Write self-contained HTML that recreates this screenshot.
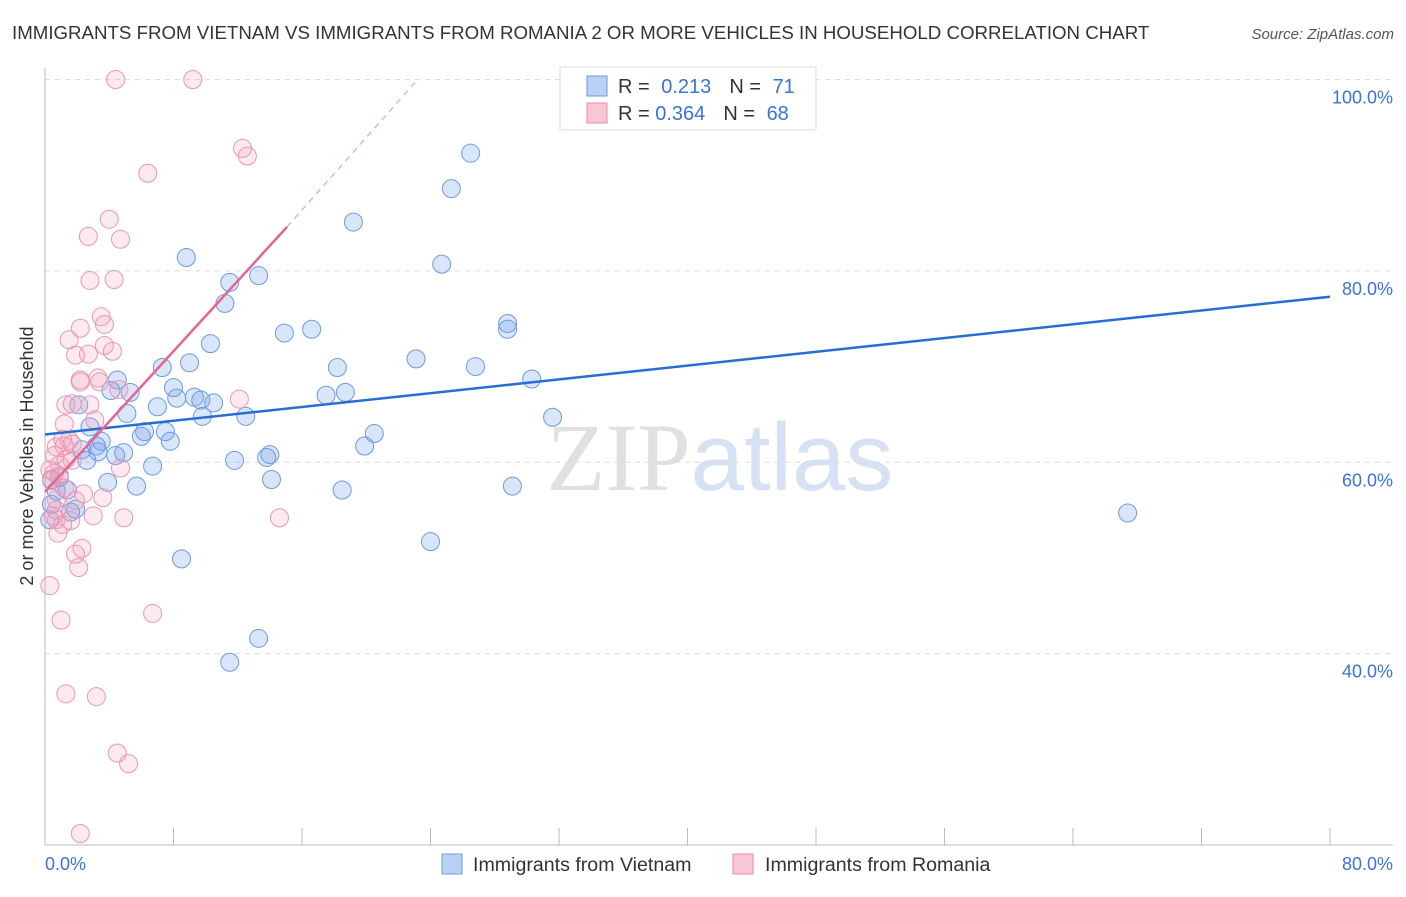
<!DOCTYPE html>
<html><head><meta charset="utf-8"><style>
body{margin:0;background:#fff;font-family:"Liberation Sans",sans-serif;}
svg text{font-family:"Liberation Sans",sans-serif;}
</style></head><body>
<svg id="chart" width="1406" height="892" xmlns="http://www.w3.org/2000/svg">
<text x="12" y="39" font-size="18.7" fill="#333">IMMIGRANTS FROM VIETNAM VS IMMIGRANTS FROM ROMANIA 2 OR MORE VEHICLES IN HOUSEHOLD CORRELATION CHART</text>
<text x="1394" y="39" font-size="15" fill="#555" font-style="italic" text-anchor="end">Source: ZipAtlas.com</text>
<text x="720" y="490" font-size="96" text-anchor="middle"><tspan fill="#e0e0e0" font-family="Liberation Serif">ZIP</tspan><tspan fill="#d6e2f3">atlas</tspan></text>
<g id="grid"></g>
<g id="axes"></g>
<g id="pts"></g>
<g id="trend"></g>
<text transform="translate(33,456) rotate(-90)" font-size="18" fill="#333" text-anchor="middle">2 or more Vehicles in Household</text>
<g>
<rect x="560" y="67" width="256" height="63" fill="#fff" stroke="#ddd"/>
<rect x="587" y="76" width="20" height="20" fill="#b9d1f5" stroke="#6c9be0"/>
<text x="618" y="93" font-size="20" fill="#333">R = <tspan fill="#3a74d4" dx="6">0.213</tspan><tspan dx="18" fill="#333">N = </tspan><tspan fill="#3a74d4" dx="6">71</tspan></text>
<rect x="587" y="103" width="20" height="20" fill="#f9c6d6" stroke="#e98aa8"/>
<text x="618" y="120" font-size="20" fill="#333">R = <tspan fill="#3a74d4">0.364</tspan><tspan dx="18" fill="#333">N = </tspan><tspan fill="#3a74d4" dx="6">68</tspan></text>
</g>
<g>
<rect x="442" y="854" width="20" height="20" fill="#b9d1f5" stroke="#6c9be0"/>
<text x="473" y="871" font-size="19.6" fill="#333">Immigrants from Vietnam</text>
<rect x="733" y="854" width="20" height="20" fill="#f9c6d6" stroke="#e98aa8"/>
<text x="765" y="871" font-size="19.6" fill="#333">Immigrants from Romania</text>
</g>
</svg>
<script>
const xTicks=[0,8,16,24,32,40,48,56,64,72,80];
const yTicks=[40,60,80,100];
const yTickLabels=["40.0%","60.0%","80.0%","100.0%"];
const xEndLabels=["0.0%","80.0%"];
const vietX=[8.8,11.5,13.3,11.2,19.2,24.7,25.3,26.5,14.9,16.6,10.3,7.3,9.0,18.2,23.1,26.8,28.8,28.8,30.3,4.5,4.1,5.3,8.0,8.2,9.3,9.7,10.5,17.5,18.7,2.1,5.1,7.0,9.8,12.5,31.6,6.2,6.0,7.5,7.8,2.8,3.5,3.2,2.3,3.3,4.4,4.9,2.6,6.7,11.8,13.8,14.0,20.5,19.9,0.9,0.7,1.4,3.9,5.7,14.1,18.5,29.1,1.9,1.6,67.4,24.0,8.5,13.3,11.5,0.3,0.4,0.4];
const vietY=[81.4,78.8,79.5,76.6,85.1,80.7,88.6,92.3,73.5,73.9,72.4,69.9,70.4,69.9,70.8,70.0,74.5,73.9,68.7,68.6,67.5,67.3,67.8,66.7,66.8,66.5,66.2,67.0,67.3,66.0,65.1,65.8,64.8,64.8,64.7,63.2,62.7,63.2,62.2,63.7,62.2,61.7,61.3,61.1,60.7,61.0,60.2,59.6,60.2,60.5,60.8,63.0,61.7,58.4,57.0,57.1,57.9,57.5,58.2,57.1,57.5,55.1,54.8,54.7,51.7,49.9,41.6,39.1,54.0,55.6,58.2];
const romX=[4.4,9.2,12.3,12.6,6.4,4.0,2.7,4.7,2.8,4.3,2.2,3.5,3.7,1.5,1.9,3.7,4.2,2.7,2.2,3.3,4.6,12.1,1.3,1.7,1.2,1.1,1.5,1.7,1.2,0.7,0.6,0.4,0.9,1.7,4.7,2.4,0.7,1.9,3.6,3.0,4.9,14.6,0.5,0.7,1.6,0.8,2.3,1.9,2.1,0.3,6.7,1.0,1.3,3.2,4.5,5.2,2.2,0.6,0.9,0.3,1.2,2.8,0.7,1.3,3.4,2.2,1.1,3.1];
const romY=[100,100,92.8,92.0,90.2,85.4,83.6,83.3,79.0,79.1,74.0,75.2,74.4,72.8,71.2,72.2,71.6,71.3,68.4,68.8,67.6,66.6,66.0,66.1,64.0,62.4,62.3,61.9,61.7,61.6,58.9,58.1,58.6,60.2,59.4,56.7,56.1,56.0,56.3,54.4,54.2,54.2,54.4,54.0,53.9,52.6,51.0,50.4,49.0,47.1,44.2,43.5,35.8,35.5,29.6,28.5,21.2,60.7,59.7,59.2,57.3,66.0,55.0,60.3,68.4,68.6,53.5,64.4];
const vietTrend=[62.9,77.3];
const romTrend=[56.9,84.6,100];
const romTrendX=[0,15.07,23.2];
const NS="http://www.w3.org/2000/svg";
const X=v=>45+v*(1285/80);
const Y=v=>845-(v-20)*(765.5/80);
function mk(tag,attrs,parent){const e=document.createElementNS(NS,tag);for(const k in attrs)e.setAttribute(k,attrs[k]);parent.appendChild(e);return e;}
const grid=document.getElementById('grid'),axes=document.getElementById('axes'),pts=document.getElementById('pts'),trend=document.getElementById('trend');
yTicks.forEach((t,i)=>{
 const l=mk('line',{x1:45,x2:1393,y1:Y(t),y2:Y(t),stroke:'#ddd','stroke-dasharray':'5,5'},grid);
 
 
 const tx=mk('text',{x:1393,y:Y(t)+24,'font-size':18,fill:'#3a74d4','text-anchor':'end'},axes);
 tx.textContent=yTickLabels[i];
 
 
});
const ax=mk('line',{x1:45,x2:45,y1:68,y2:845,stroke:'#bbb'},axes);


const bx=mk('line',{x1:45,x2:1393,y1:845,y2:845,stroke:'#bbb'},axes);


xTicks.forEach(t=>{
 const l=mk('line',{x1:X(t),x2:X(t),y1:828,y2:845,stroke:'#bbb'},axes);
 
 
});
[[0,'start',45],[80,'end',1393]].forEach((d,i)=>{
 const tx=mk('text',{x:d[2],y:870,'font-size':18,fill:'#3a74d4','text-anchor':d[1]},axes);
 tx.textContent=xEndLabels[i];
 
 
});
vietX.forEach((x,i)=>{
 const c=mk('circle',{cx:X(x),cy:Y(vietY[i]),r:9,fill:'rgba(120,162,232,0.28)',stroke:'#6a9be0','stroke-width':1},pts);
 
 
});
romX.forEach((x,i)=>{
 const c=mk('circle',{cx:X(x),cy:Y(romY[i]),r:9,fill:'rgba(242,160,188,0.22)',stroke:'#ec96b2','stroke-width':1},pts);
 
 
});
const vl=mk('line',{x1:X(0),y1:Y(vietTrend[0]),x2:X(80),y2:Y(vietTrend[1]),stroke:'#2a6dd2','stroke-width':2.5},trend);


const rl=mk('line',{x1:X(romTrendX[0]),y1:Y(romTrend[0]),x2:X(romTrendX[1]),y2:Y(romTrend[1]),stroke:'#e4668f','stroke-width':2.5},trend);


const rd=mk('line',{x1:X(romTrendX[1]),y1:Y(romTrend[1]),x2:X(romTrendX[2]),y2:Y(romTrend[2]),stroke:'#e8a0b8','stroke-width':1.2,'stroke-dasharray':'6,5'},trend);


</script>
</body></html>
